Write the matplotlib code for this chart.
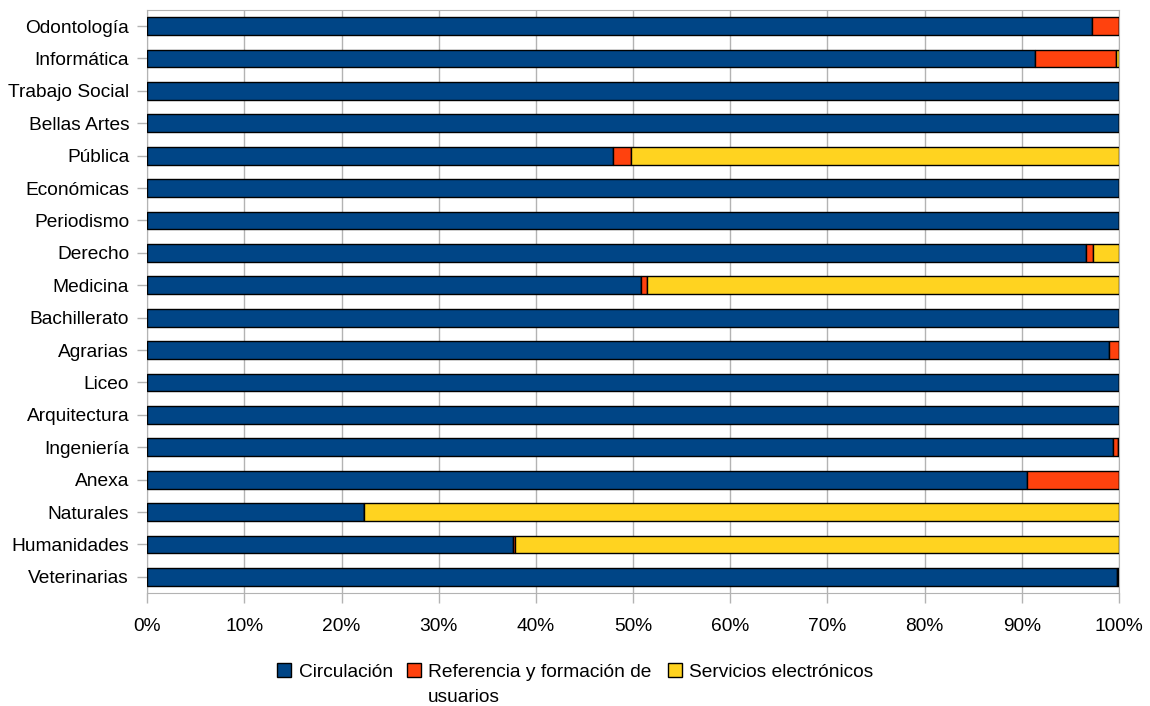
import numpy as np
import matplotlib.pyplot as plt
from matplotlib.patches import Rectangle

plt.rcParams['font.family'] = ['Liberation Sans', 'DejaVu Sans']

# Data (percent of total per library), top to bottom
categorias = ['Odontología', 'Informática', 'Trabajo Social', 'Bellas Artes', 'Pública',
              'Económicas', 'Periodismo', 'Derecho', 'Medicina', 'Bachillerato', 'Agrarias',
              'Liceo', 'Arquitectura', 'Ingeniería', 'Anexa', 'Naturales', 'Humanidades',
              'Veterinarias']
circulacion = [97.2, 91.4, 100, 100, 47.9, 100, 100, 96.6, 50.8, 100, 99.0,
               100, 100, 99.4, 90.5, 22.3, 37.6, 99.8]
referencia = [2.8, 8.3, 0, 0, 1.9, 0, 0, 0.7, 0.6, 0, 1.0,
              0, 0, 0.5, 9.5, 0, 0.3, 0.1]
servicios = [0, 0.3, 0, 0, 50.2, 0, 0, 2.7, 48.6, 0, 0,
             0, 0, 0.1, 0, 77.7, 62.1, 0.1]
series = ['Circulación', 'Referencia y formación de\nusuarios', 'Servicios electrónicos']
colores = ['#004586', '#ff420e', '#ffd320']

W, H = 1150, 706
fig = plt.figure(figsize=(W / 100, H / 100), dpi=100)
ax = fig.add_axes([0.128, 0.160, 0.845, 0.826])

y = np.arange(len(categorias))
izq = np.zeros(len(categorias))
for vals, col in zip([circulacion, referencia, servicios], colores):
    vals = np.array(vals, dtype=float)
    ax.barh(y, vals, left=izq, height=0.55, color=col, edgecolor='black', linewidth=1, zorder=3)
    izq += vals

fs = 13.8
ax.set_ylim(len(categorias) - 0.5, -0.5)
ax.set_xlim(0, 100)
ax.set_yticks(y)
ax.set_yticklabels(categorias, fontsize=fs)
ax.set_xticks(np.arange(0, 101, 10))
ax.set_xticklabels([f'{v}%' for v in range(0, 101, 10)], fontsize=fs)
ax.xaxis.grid(True, color='#b3b3b3', linewidth=1, zorder=0)
ax.tick_params(axis='both', color='#b3b3b3', length=7, width=1)
ax.tick_params(axis='y', pad=6)
ax.tick_params(axis='x', pad=11)
for s in ax.spines.values():
    s.set_color('#b3b3b3')

# legend drawn by hand so the two-line label hangs from its first line
leg_sq = [277, 407, 668]
leg_tx = [299, 428, 689]
for xs, xt, col, lab in zip(leg_sq, leg_tx, colores, series):
    fig.add_artist(Rectangle((xs / W, 1 - 677 / H), 14 / W, 14 / H, transform=fig.transFigure,
                             facecolor=col, edgecolor='black', linewidth=1))
    fig.text(xt / W, 1 - 664 / H, lab, fontsize=fs, va='top', ha='left',
             linespacing=1.6)

fig.savefig('out.png', dpi=100)
